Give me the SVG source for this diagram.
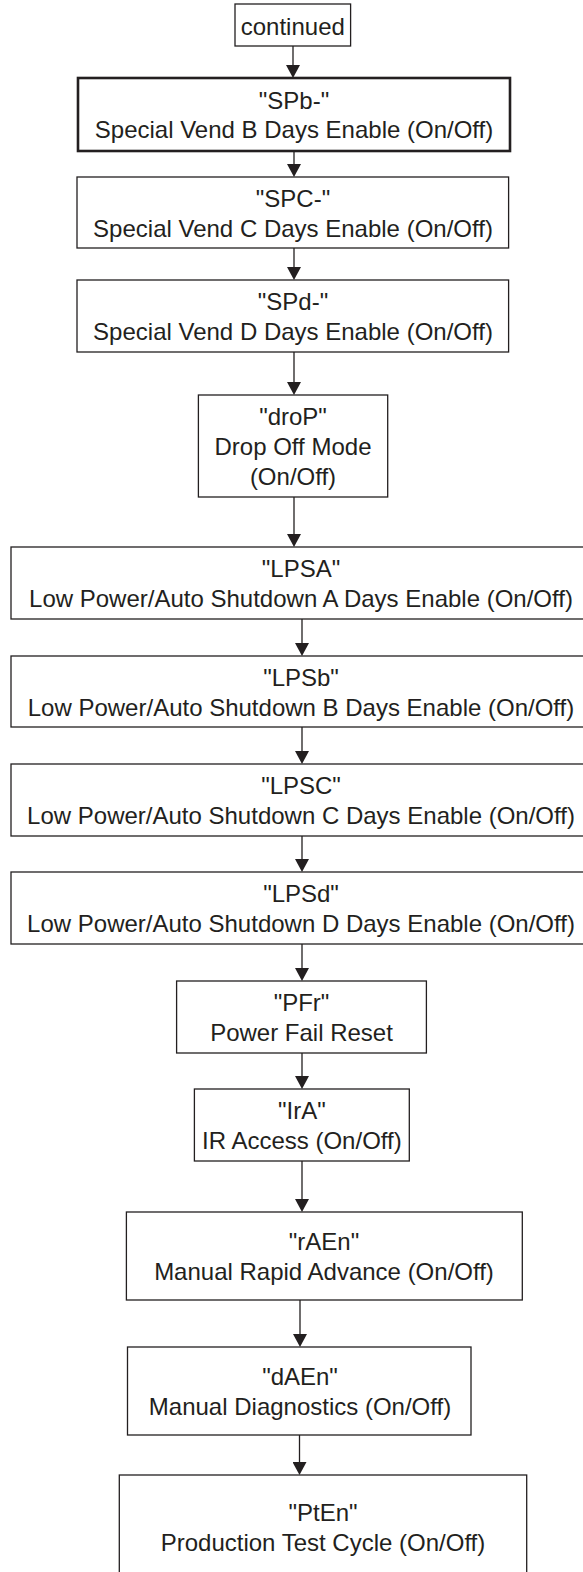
<svg xmlns="http://www.w3.org/2000/svg" width="583" height="1572" viewBox="0 0 583 1572">
<style>
.box{fill:#fff;stroke:#231f20;stroke-width:1.3}
.thick{stroke-width:2.6}
.t{font-family:"Liberation Sans",Arial,sans-serif;font-size:24px;fill:#231f20;text-anchor:middle}
.c{fill:none;stroke:#231f20;stroke-width:1.3}
</style>
<defs>
<marker id="ah" markerUnits="userSpaceOnUse" markerWidth="13" markerHeight="14" viewBox="0 0 13 14" refX="0" refY="7" orient="auto">
<path d="M0,0 L13,7 L0,14 z" fill="#231f20"/>
</marker>
</defs>
<rect width="583" height="1572" fill="#fff"/>
<g id="connectors">
<line class="c" x1="293" y1="46" x2="293" y2="65" marker-end="url(#ah)"/>
<line class="c" x1="294" y1="151" x2="294" y2="164" marker-end="url(#ah)"/>
<line class="c" x1="294" y1="248" x2="294" y2="267" marker-end="url(#ah)"/>
<line class="c" x1="294" y1="352" x2="294" y2="382" marker-end="url(#ah)"/>
<line class="c" x1="294" y1="497" x2="294" y2="534" marker-end="url(#ah)"/>
<line class="c" x1="302" y1="619" x2="302" y2="643" marker-end="url(#ah)"/>
<line class="c" x1="302" y1="727" x2="302" y2="751" marker-end="url(#ah)"/>
<line class="c" x1="302" y1="836" x2="302" y2="859" marker-end="url(#ah)"/>
<line class="c" x1="302" y1="944" x2="302" y2="968" marker-end="url(#ah)"/>
<line class="c" x1="302" y1="1053" x2="302" y2="1076" marker-end="url(#ah)"/>
<line class="c" x1="302" y1="1161" x2="302" y2="1199" marker-end="url(#ah)"/>
<line class="c" x1="300" y1="1300" x2="300" y2="1334" marker-end="url(#ah)"/>
<line class="c" x1="299.5" y1="1435" x2="299.5" y2="1462" marker-end="url(#ah)"/>
</g>
<g id="continued">
<rect class="box" x="235" y="4" width="115.6" height="42"/>
<text class="t" x="292.8" y="34.5">continued</text>
</g>
<g id="SPb">
<rect class="box thick" x="78" y="78" width="432" height="73"/>
<text class="t" x="294" y="108.5">"SPb-"</text>
<text class="t" x="294" y="138">Special Vend B Days Enable (On/Off)</text>
</g>
<g id="SPC">
<rect class="box" x="77" y="177" width="431.6" height="71"/>
<text class="t" x="293" y="206.5">"SPC-"</text>
<text class="t" x="293" y="236.5">Special Vend C Days Enable (On/Off)</text>
</g>
<g id="SPd">
<rect class="box" x="77" y="280" width="431.6" height="72"/>
<text class="t" x="293" y="310">"SPd-"</text>
<text class="t" x="293" y="340">Special Vend D Days Enable (On/Off)</text>
</g>
<g id="droP">
<rect class="box" x="198.4" y="395" width="189.3" height="102"/>
<text class="t" x="293" y="425">"droP"</text>
<text class="t" x="293" y="455">Drop Off Mode</text>
<text class="t" x="293" y="485">(On/Off)</text>
</g>
<g id="LPSA">
<rect class="box" x="11" y="547" width="581" height="72"/>
<text class="t" x="301" y="577">"LPSA"</text>
<text class="t" x="301" y="607">Low Power/Auto Shutdown A Days Enable (On/Off)</text>
</g>
<g id="LPSb">
<rect class="box" x="11" y="656" width="581" height="71"/>
<text class="t" x="301" y="685.5">"LPSb"</text>
<text class="t" x="301" y="715.5">Low Power/Auto Shutdown B Days Enable (On/Off)</text>
</g>
<g id="LPSC">
<rect class="box" x="11" y="764" width="581" height="72"/>
<text class="t" x="301" y="793.5">"LPSC"</text>
<text class="t" x="301" y="823.5">Low Power/Auto Shutdown C Days Enable (On/Off)</text>
</g>
<g id="LPSd">
<rect class="box" x="11" y="872" width="581" height="72"/>
<text class="t" x="301" y="902">"LPSd"</text>
<text class="t" x="301" y="932">Low Power/Auto Shutdown D Days Enable (On/Off)</text>
</g>
<g id="PFr">
<rect class="box" x="176.6" y="981" width="249.8" height="72"/>
<text class="t" x="301.5" y="1010.5">"PFr"</text>
<text class="t" x="301.5" y="1040.5">Power Fail Reset</text>
</g>
<g id="IrA">
<rect class="box" x="194.4" y="1089" width="214.9" height="72"/>
<text class="t" x="301.9" y="1118.5">"IrA"</text>
<text class="t" x="301.9" y="1148.5">IR Access (On/Off)</text>
</g>
<g id="rAEn">
<rect class="box" x="126.4" y="1212" width="395.9" height="88"/>
<text class="t" x="324" y="1249.5">"rAEn"</text>
<text class="t" x="324" y="1279.5">Manual Rapid Advance (On/Off)</text>
</g>
<g id="dAEn">
<rect class="box" x="127.5" y="1347" width="343.5" height="88"/>
<text class="t" x="300" y="1384.5">"dAEn"</text>
<text class="t" x="300" y="1414.5">Manual Diagnostics (On/Off)</text>
</g>
<g id="PtEn">
<rect class="box" x="119.3" y="1475" width="407.4" height="105"/>
<text class="t" x="323" y="1521">"PtEn"</text>
<text class="t" x="323" y="1551">Production Test Cycle (On/Off)</text>
</g>
</svg>
